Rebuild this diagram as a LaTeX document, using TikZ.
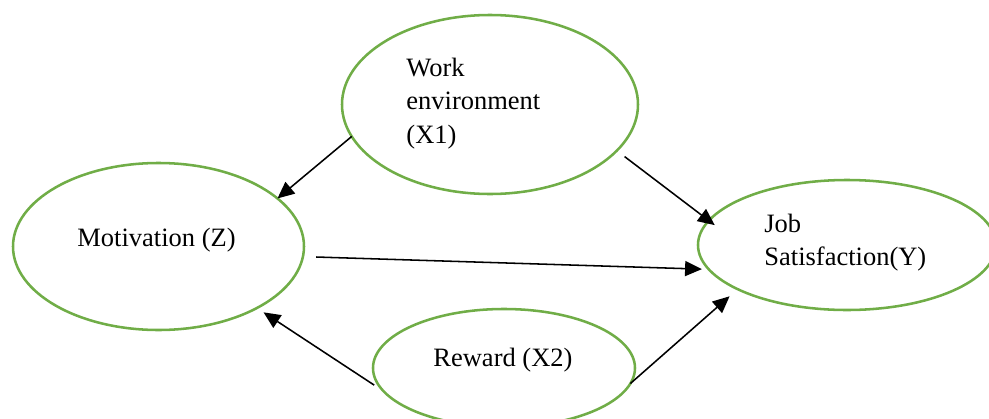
\documentclass[tikz,border=0pt]{standalone}
\usepackage{fontspec}
\setmainfont{Liberation Serif}
\usetikzlibrary{arrows.meta,shapes.geometric}
\definecolor{ringgreen}{HTML}{70AD47}
\def\px{0.453pt}
\begin{document}
\begin{tikzpicture}[x=\px, y=-\px,
  var/.style={draw=ringgreen, line width=1.15pt, ellipse, inner sep=0pt, outer sep=0pt},
  vartext/.style={inner sep=0pt, font=\fontsize{12pt}{15pt}\selectfont, align=left},
  link/.style={draw=black, line width=0.7pt, -{Triangle[length=7.6pt,width=6.8pt]}}]
\useasboundingbox (0,0) rectangle (989,419);
\clip (0,0) rectangle (989,419);

% variables
\node[var, minimum width=296*\px, minimum height=179*\px] (we) at (490,104.5) {};
\node[var, minimum width=291*\px, minimum height=167*\px] (mo) at (158.5,246.5) {};
\node[var, minimum width=298*\px, minimum height=130*\px] (js) at (847,245) {};
\node[var, minimum width=262*\px, minimum height=118*\px] (rw) at (504,368) {};

% variable names
\node[vartext, anchor=north west] (weT) at (406,58) {Work\\environment\\(X1)};
\node[vartext, anchor=north west] (jsT) at (764,214) {Job\\Satisfaction(Y)};
\node[vartext, anchor=base west] (moT) at (77,246) {Motivation (Z)};
\node[vartext, anchor=base west] (rwT) at (433,366) {Reward (X2)};

% paths
\draw[link] (we.193) -- (mo.22);
\draw[link, shorten <=9.8*\px, shorten >=-7.4*\px] (we.-20.8) -- (js.170.7);
\draw[link, shorten <=13.2*\px, shorten >=7*\px] (mo.-4.2) -- (js.190.4);
\draw[link, shorten <=11.4*\px, shorten >=7.9*\px] (rw.191.5) -- (mo.-32.9);
\draw[link, shorten >=10.8*\px] (rw.-7.3) -- (js.202.1);
\end{tikzpicture}
\end{document}
